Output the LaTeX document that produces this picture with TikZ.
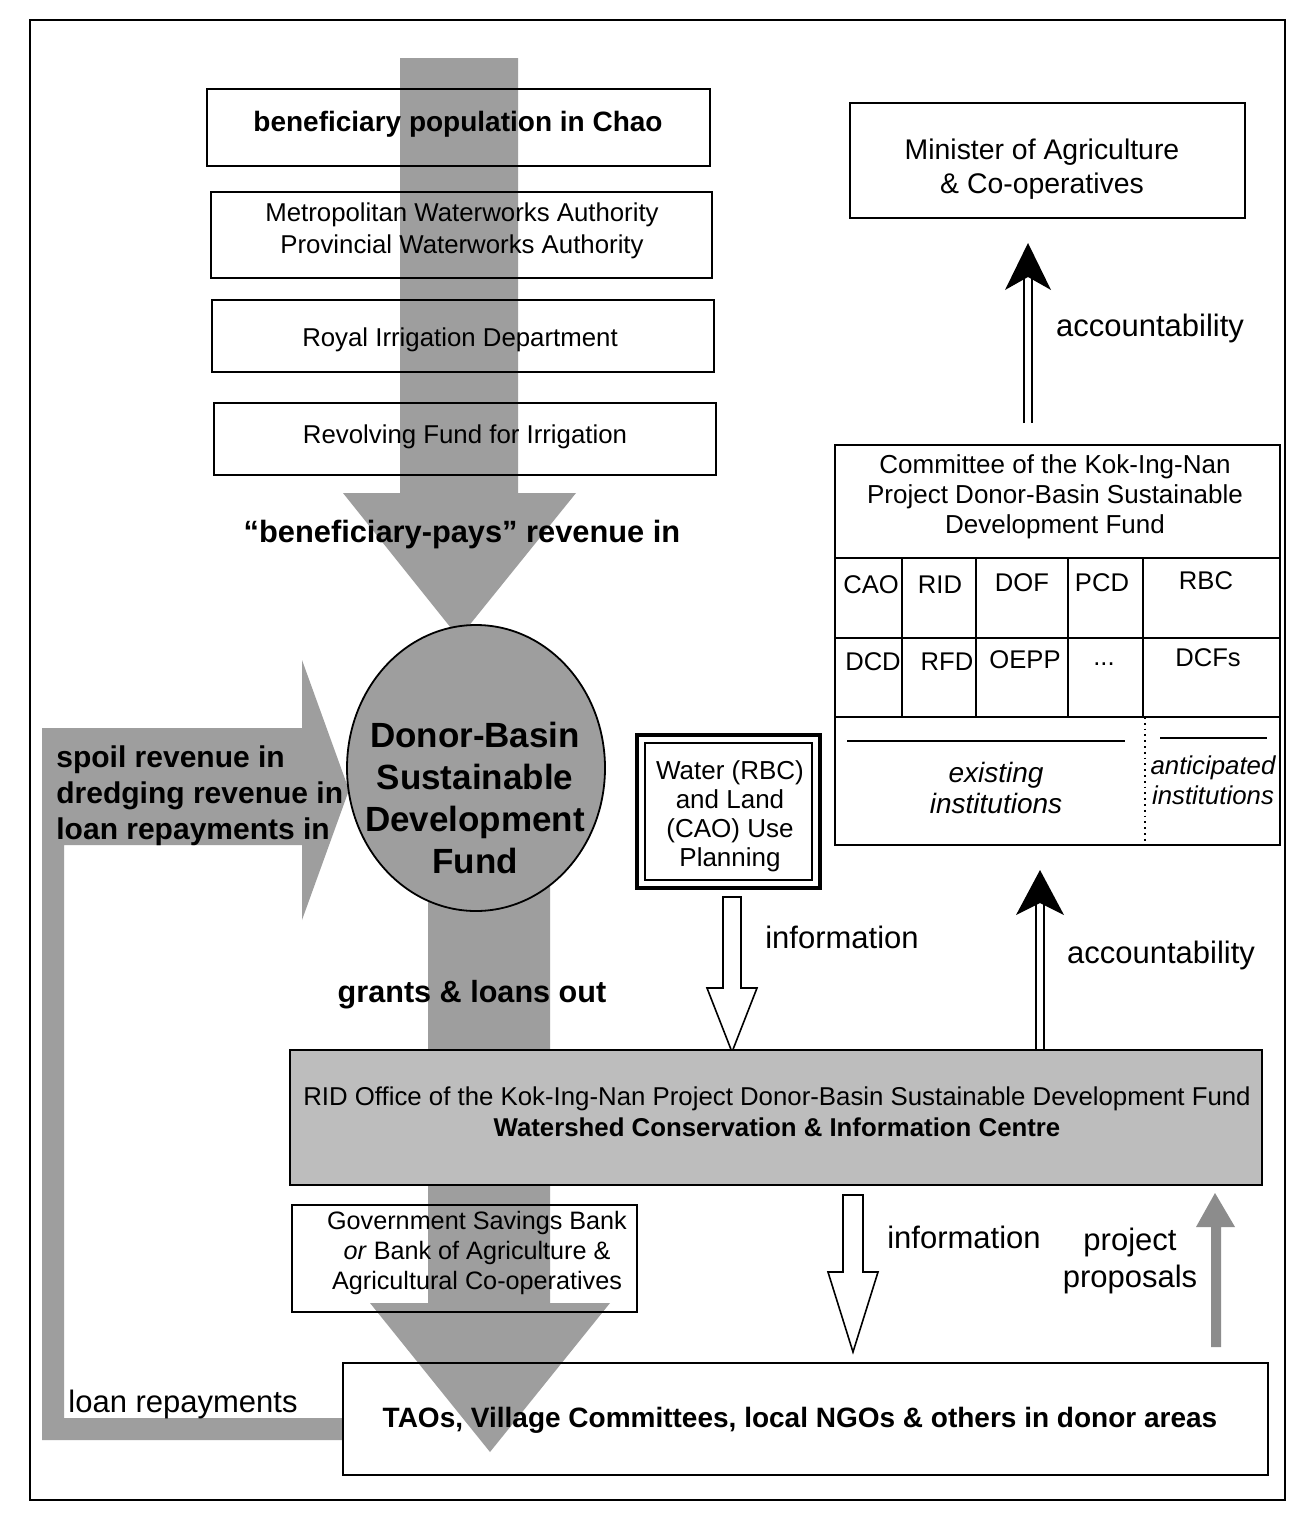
\documentclass[tikz,border=0pt]{standalone}
\usepackage{fontspec}
\setmainfont{Liberation Sans}
\usetikzlibrary{shapes.geometric}
\definecolor{dither}{gray}{0.62}
\definecolor{ridfill}{gray}{0.74}
\definecolor{propfill}{gray}{0.55}
\begin{document}
\begin{tikzpicture}[x=0.5pt,y=-0.5pt,
  bx/.style={draw, line width=0.9pt, inner sep=0pt},
  ln/.style={line width=0.9pt},
  txt/.style={align=center, inner sep=0pt},
  fReg/.style={font=\fontsize{12.9}{16}\selectfont},
  fLab/.style={font=\fontsize{15.5}{18.5}\selectfont},
  fCell/.style={font=\fontsize{12.8}{15}\selectfont},
  hollow/.style={draw, fill=white, line width=0.8pt, line join=miter},
  dblshaft/.style={draw, line width=0.9pt, double=white, double distance=3pt}
]
\useasboundingbox (0,0) rectangle (1298,1515);
\fill[white] (0,0) rectangle (1298,1515);
% outer frame
\draw[line width=0.8pt] (30,20) rectangle (1285,1500);

% ---- grey flow arrows ----
\fill[dither] (400,58) -- (518,58) -- (518,493) -- (576,493) -- (459,638) -- (343,493) -- (400,493) -- cycle;
\fill[dither] (428,880) -- (550,880) -- (550,1303) -- (610,1303) -- (490,1452) -- (370,1303) -- (428,1303) -- cycle;
\fill[dither] (42,728) -- (302,728) -- (302,660) -- (349,790) -- (302,920) -- (302,845) -- (64,845)
   -- (64,1418) -- (343,1418) -- (343,1440) -- (42,1440) -- cycle;

% ---- fund ellipse ----
\node[ellipse, draw, fill=dither, line width=0.9pt, minimum width=129pt, minimum height=143pt, inner sep=0pt] (fund) at (476,768) {};
\node[txt, font=\bfseries\fontsize{17.5}{21}\selectfont] (fundtxt) at (475,798) {Donor-Basin\\Sustainable\\Development\\Fund};

% ---- left column boxes ----
\node[bx, minimum width=251.5pt, minimum height=38.5pt] (b1) at (458.5,127.5) {};
\node[bx, minimum width=250.5pt, minimum height=43pt] (b2) at (461.5,235) {};
\node[bx, minimum width=251pt, minimum height=36pt] (b3) at (463,336) {};
\node[bx, minimum width=251pt, minimum height=36pt] (b4) at (465,439) {};
\node[txt, font=\bfseries\fontsize{14}{16}\selectfont] (b1t) at (458,124) {beneficiary population in Chao};
\node[txt, fReg] (b2t) at (462,231) {Metropolitan Waterworks Authority\\Provincial Waterworks Authority};
\node[txt, fReg] (b3t) at (460,340) {Royal Irrigation Department};
\node[txt, fReg] (b4t) at (465,437) {Revolving Fund for Irrigation};

\node[txt, font=\bfseries\fontsize{15.4}{18}\selectfont] (bpays) at (462,535) {“beneficiary-pays” revenue in};
\node[txt, font=\bfseries\fontsize{15}{18}\selectfont, anchor=west, align=left] (spoil) at (56,796) {spoil revenue in\\dredging revenue in\\loan repayments in};
\node[txt, font=\bfseries\fontsize{15.3}{18}\selectfont] (grants) at (472,995) {grants \& loans out};
\node[txt, fLab, anchor=west] (loanrep) at (68,1404) {loan repayments};

% ---- Minister ----
\node[bx, minimum width=197.5pt, minimum height=57.5pt] (minister) at (1047.5,160.5) {};
\node[txt, font=\fontsize{14.2}{17}\selectfont] (ministert) at (1042,169) {Minister of Agriculture\\\& Co-operatives};

% ---- Committee table ----
\node[bx, minimum width=222.5pt, minimum height=200pt] (committee) at (1057.5,645) {};
\draw[ln] (835,558) -- (1280,558);
\draw[ln] (835,638) -- (1280,638);
\draw[ln] (835,717) -- (1280,717);
\foreach \cx in {902,976,1068,1143} \draw[ln] (\cx,558) -- (\cx,717);
\draw[line width=0.9pt, dotted] (1145,717) -- (1145,845);
\draw[ln] (847,741) -- (1125,741);
\draw[ln] (1160,738) -- (1267,738);
\node[txt, font=\fontsize{13}{15}\selectfont] (commt) at (1055,497) {Committee of the Kok-Ing-Nan\\Project Donor-Basin Sustainable\\Development Fund};
\node[txt, fCell] (cao) at (871,585) {CAO};
\node[txt, fCell] (ridc) at (940,585) {RID};
\node[txt, fCell] (dof) at (1022,583) {DOF};
\node[txt, fCell] (pcd) at (1102,583) {PCD};
\node[txt, fCell] (rbc) at (1206,581) {RBC};
\node[txt, fCell] (dcd) at (873,662) {DCD};
\node[txt, fCell] (rfd) at (947,662) {RFD};
\node[txt, fCell] (oepp) at (1025,660) {OEPP};
\node[txt, fCell] (dots) at (1104,664) {...};
\node[txt, fCell] (dcfs) at (1208,658) {DCFs};
\node[txt, font=\itshape\fontsize{14}{15.5}\selectfont] (exist) at (996,788) {existing\\institutions};
\node[txt, font=\itshape\fontsize{12.9}{15}\selectfont] (antic) at (1213,780) {anticipated\\institutions};

% ---- accountability arrows ----
\node[txt, fLab] (acc1) at (1150,328) {accountability};
\coordinate (a1bot) at (1028,423);
\coordinate (a1tip) at (1028,243);
\draw[dblshaft, shorten >=14pt] (a1bot) -- (a1tip);
\fill (a1tip) -- ++(-23,47) -- ++(23,-13) -- ++(23,13) -- cycle;

\node[txt, fLab] (acc2) at (1161,955) {accountability};
\coordinate (a2bot) at (1040,1049);
\coordinate (a2tip) at (1040,870);
\draw[dblshaft, shorten >=14pt] (a2bot) -- (a2tip);
\fill (a2tip) -- ++(-24,45) -- ++(24,-12) -- ++(24,12) -- cycle;

% ---- Water / Land box ----
\node[draw, line width=2.2pt, inner sep=0pt, minimum width=91.5pt, minimum height=76.5pt] (water) at (728.5,811.5) {};
\draw[line width=0.6pt] (645,743) rectangle (812,880);
\node[txt, font=\fontsize{13}{14.5}\selectfont] (watert) at (730,816) {Water (RBC)\\and Land\\(CAO) Use\\Planning};

% information arrow 1
\draw[hollow] (723,897) -- (741,897) -- (741,988) -- (757,988) -- (732,1052) -- (707,988) -- (723,988) -- cycle;
\node[txt, fLab] (info1) at (842,937) {information};

% ---- RID office ----
\node[bx, fill=ridfill, minimum width=486pt, minimum height=67.5pt] (rid) at (776,1117.5) {};
\node[txt, font=\fontsize{12.9}{15.5}\selectfont] (ridt) at (777,1112) {RID Office of the Kok-Ing-Nan Project Donor-Basin Sustainable Development Fund\\\textbf{Watershed Conservation \& Information Centre}};

% ---- bank ----
\node[bx, minimum width=172.5pt, minimum height=53.5pt] (bank) at (464.5,1258.5) {};
\node[txt, font=\fontsize{12.6}{15}\selectfont] (bankt) at (477,1253) {Government Savings Bank\\\textit{or} Bank of Agriculture \&\\Agricultural Co-operatives};

% information arrow 2
\draw[hollow] (843,1195) -- (863,1195) -- (863,1272) -- (878,1272) -- (853,1352) -- (828,1272) -- (843,1272) -- cycle;
\node[txt, fLab] (info2) at (964,1237) {information};

% project proposals arrow
\fill[propfill] (1211,1347) -- (1221,1347) -- (1221,1227) -- (1235,1227) -- (1215,1193) -- (1196,1227) -- (1211,1227) -- cycle;
\node[txt, fLab] (prop) at (1130,1261) {project\\proposals};

% ---- TAO box ----
\node[bx, minimum width=462.5pt, minimum height=56pt] (tao) at (805.5,1419) {};
\node[txt, font=\bfseries\fontsize{14}{16}\selectfont] (taot) at (800,1420) {TAOs, Village Committees, local NGOs \& others in donor areas};
\end{tikzpicture}
\end{document}
